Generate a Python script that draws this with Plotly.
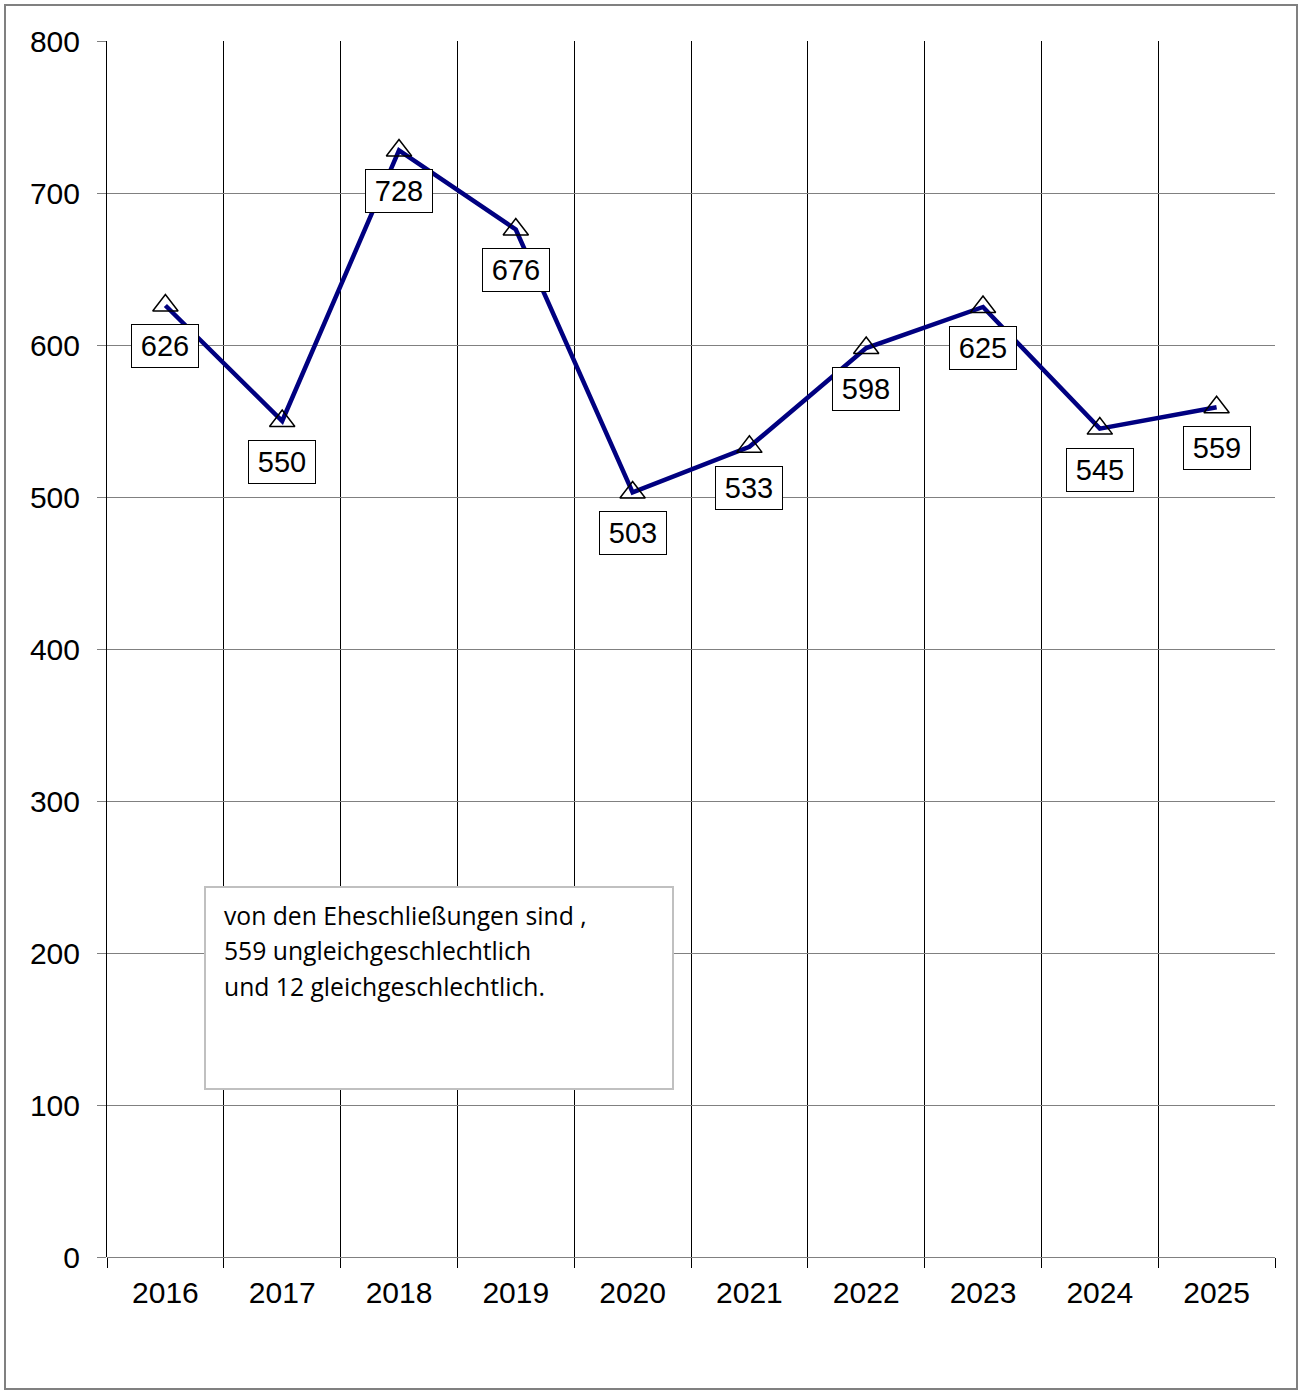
import plotly.graph_objects as go

years = ["2016", "2017", "2018", "2019", "2020", "2021", "2022", "2023", "2024", "2025"]
values = [626, 550, 728, 676, 503, 533, 598, 625, 545, 559]
note_lines = ["von den Eheschließungen sind ,", "559 ungleichgeschlechtlich", "und 12 gleichgeschlechtlich."]

W, H = 1298, 1391
L, R, T, B = 107, 1275, 41, 1257

fig = go.Figure()
fig.add_trace(go.Scatter(
    x=years, y=values, mode="lines+markers",
    line=dict(color="#000080", width=4.5),
    marker=dict(symbol="triangle-up-open", size=22, color="black", line=dict(color="black", width=1.5)),
    cliponaxis=False, showlegend=False, hoverinfo="skip",
))

for i, v in enumerate(values):
    fig.add_annotation(x=i, y=v, text=str(v), showarrow=False, yshift=-41,
                       font=dict(family="Liberation Sans, Arial", size=29, color="black"),
                       width=56, height=32, align="center", valign="middle",
                       bgcolor="white", bordercolor="black", borderwidth=1, borderpad=5)

def px_x(p):
    return (p - L) / (R - L)

def px_y(p):
    return (B - p) / (B - T)

# note box
fig.add_shape(type="rect", xref="paper", yref="paper",
              x0=px_x(205), x1=px_x(673), y0=px_y(1089), y1=px_y(887),
              line=dict(color="#c0c0c0", width=2), fillcolor="white", layer="above")
for i, line in enumerate(note_lines):
    fig.add_annotation(xref="paper", yref="paper", x=px_x(222), y=px_y(915 + 35.5 * i),
                       xanchor="left", yanchor="middle", text=line, showarrow=False,
                       font=dict(family="Open Sans, Noto Sans", size=24.7, color="black"))

# outer frame
fig.add_shape(type="rect", xref="paper", yref="paper",
              x0=px_x(5), x1=px_x(1297), y0=px_y(1389), y1=px_y(5),
              line=dict(color="#808080", width=2), fillcolor="rgba(0,0,0,0)", layer="below")

fig.update_layout(
    width=W, height=H,
    margin=dict(l=L, r=W - R, t=T, b=H - B, pad=0),
    paper_bgcolor="white", plot_bgcolor="white",
    font=dict(family="Liberation Sans, Arial", size=30, color="black"),
    xaxis=dict(type="category", tickson="boundaries", range=[-0.5, 9.5],
               showgrid=True, gridcolor="black", gridwidth=1,
               ticks="outside", ticklen=10, tickcolor="black", tickwidth=1,
               showline=False, zeroline=False, ticklabelstandoff=15,
               tickfont=dict(size=30)),
    yaxis=dict(range=[0, 800], dtick=100, tick0=0,
               showgrid=True, gridcolor="#808080", gridwidth=1,
               ticks="outside", ticklen=9, tickcolor="#808080", tickwidth=1,
               showline=True, linecolor="black", linewidth=1, mirror=False,
               zeroline=True, zerolinecolor="#808080", zerolinewidth=1,
               ticklabelstandoff=11, tickfont=dict(size=30)),
)

fig.write_html("out.html", config={"displayModeBar": False},
               post_script="document.body.style.margin='0';document.body.style.overflow='hidden';")
